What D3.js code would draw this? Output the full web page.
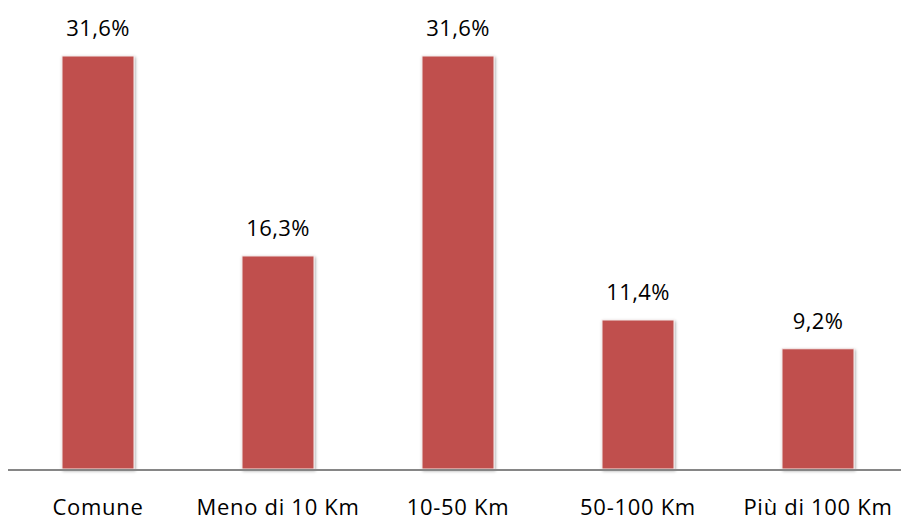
<!DOCTYPE html>
<html>
<head>
<meta charset="utf-8">
<script src="https://cdn.jsdelivr.net/npm/d3@7"></script>
<style>
  html, body { margin: 0; padding: 0; background: #fff; }
  svg { display: block; }
  text { font-family: "Open Sans", "Noto Sans", sans-serif; fill: #000; }
</style>
</head>
<body>
<script>
// Distance categories and their shares (%)
const categories = ["Comune", "Meno di 10 Km", "10-50 Km", "50-100 Km", "Più di 100 Km"];
const values = [31.6, 16.3, 31.6, 11.4, 9.2];
const valueLabels = ["31,6%", "16,3%", "31,6%", "11,4%", "9,2%"];

const width = 901, height = 522;
const baseY = 469;

const svg = d3.select("body").append("svg")
  .attr("width", width)
  .attr("height", height);

const defs = svg.append("defs");
const f = defs.append("filter").attr("id", "shadow")
  .attr("x", "-20%").attr("y", "-20%").attr("width", "140%").attr("height", "140%");
f.append("feDropShadow")
  .attr("dx", 1).attr("dy", 1.5)
  .attr("stdDeviation", 1.6)
  .attr("flood-color", "#000")
  .attr("flood-opacity", 0.35);

const x = d3.scaleBand()
  .domain(categories)
  .range([8, 908])
  .paddingInner(0.6)
  .paddingOuter(0.3);

const y = d3.scaleLinear()
  .domain([0, 31.6])
  .range([baseY, 56]);

const data = categories.map((c, i) => ({ c, v: values[i], label: valueLabels[i] }));

// Bars
svg.append("g").selectAll("rect")
  .data(data)
  .join("rect")
  .attr("x", d => x(d.c))
  .attr("y", d => y(d.v))
  .attr("width", x.bandwidth())
  .attr("height", d => y(0) - y(d.v))
  .attr("fill", "#C0504D")
  .attr("stroke", "#f4eaea")
  .attr("stroke-width", 1)
  .attr("filter", "url(#shadow)");

// Baseline
svg.append("line")
  .attr("x1", 8).attr("x2", width)
  .attr("y1", baseY + 1).attr("y2", baseY + 1)
  .attr("stroke", "#868686")
  .attr("stroke-width", 2);

// Value labels
svg.append("g").selectAll("text")
  .data(data)
  .join("text")
  .attr("x", d => x(d.c) + x.bandwidth() / 2)
  .attr("y", d => y(d.v) - 20)
  .attr("text-anchor", "middle")
  .attr("font-size", 22)
  .attr("letter-spacing", 0.4)
  .text(d => d.label);

// Category labels
svg.append("g").selectAll("text")
  .data(categories)
  .join("text")
  .attr("x", d => x(d) + x.bandwidth() / 2)
  .attr("y", 515)
  .attr("text-anchor", "middle")
  .attr("font-size", 22)
  .attr("letter-spacing", 0.7)
  .text(d => d);
</script>
</body>
</html>
